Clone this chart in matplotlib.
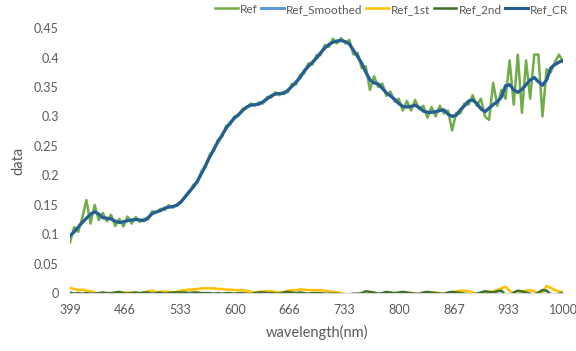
import numpy as np
import matplotlib
matplotlib.use("Agg")
import matplotlib.pyplot as plt

plt.rcParams['font.family'] = ['Lato', 'DejaVu Sans']

# continuum-removed reflectance (dark blue)
ref_cr = [
    0.097, 0.104, 0.112, 0.120, 0.127, 0.134, 0.138, 0.134, 0.128, 0.127,
    0.126, 0.122, 0.120, 0.121, 0.123, 0.124, 0.125, 0.124, 0.123, 0.128,
    0.135, 0.138, 0.140, 0.144, 0.146, 0.147, 0.149, 0.155, 0.163, 0.172,
    0.180, 0.190, 0.203, 0.217, 0.231, 0.244, 0.257, 0.268, 0.280, 0.289,
    0.297, 0.303, 0.310, 0.316, 0.319, 0.320, 0.321, 0.325, 0.330, 0.335,
    0.338, 0.339, 0.339, 0.344, 0.351, 0.358, 0.366, 0.377, 0.385, 0.392,
    0.399, 0.408, 0.416, 0.422, 0.426, 0.428, 0.429, 0.427, 0.423, 0.412,
    0.402, 0.390, 0.375, 0.362, 0.357, 0.355, 0.348, 0.340, 0.335, 0.329,
    0.322, 0.317, 0.316, 0.317, 0.319, 0.315, 0.309, 0.307, 0.307, 0.308,
    0.310, 0.311, 0.304, 0.300, 0.302, 0.311, 0.318, 0.326, 0.328, 0.322,
    0.313, 0.308, 0.314, 0.320, 0.325, 0.333, 0.352, 0.354, 0.345, 0.341,
    0.346, 0.354, 0.362, 0.366, 0.359, 0.353, 0.362, 0.382, 0.388, 0.392,
    0.395,
]

# smoothed reflectance lies under the CR line
ref_smoothed = list(ref_cr)

# raw reflectance (green)
ref = [
    0.086, 0.112, 0.104, 0.128, 0.158, 0.118, 0.150, 0.124, 0.136, 0.122,
    0.133, 0.114, 0.126, 0.113, 0.130, 0.118, 0.129, 0.121, 0.126, 0.125,
    0.139, 0.136, 0.143, 0.141, 0.149, 0.145, 0.151, 0.153, 0.165, 0.170,
    0.184, 0.187, 0.207, 0.213, 0.235, 0.241, 0.260, 0.265, 0.284, 0.286,
    0.300, 0.301, 0.313, 0.314, 0.322, 0.318, 0.324, 0.322, 0.333, 0.332,
    0.341, 0.336, 0.342, 0.341, 0.355, 0.354, 0.371, 0.373, 0.390, 0.388,
    0.404, 0.404, 0.421, 0.418, 0.432, 0.424, 0.433, 0.424, 0.430, 0.405,
    0.408, 0.382, 0.385, 0.345, 0.368, 0.350, 0.356, 0.335, 0.342, 0.325,
    0.330, 0.310, 0.326, 0.310, 0.328, 0.312, 0.318, 0.298, 0.316, 0.300,
    0.318, 0.305, 0.310, 0.276, 0.306, 0.305, 0.322, 0.320, 0.336, 0.318,
    0.330, 0.300, 0.294, 0.357, 0.318, 0.345, 0.330, 0.395, 0.320, 0.405,
    0.306, 0.395, 0.330, 0.405, 0.405, 0.300, 0.380, 0.375, 0.392, 0.405,
    0.393,
]

# first derivative (yellow), negative parts fall below the axis
ref_1st = [
    0.009, 0.007, 0.005, 0.006, 0.004, 0.003, 0.001, -0.002, -0.001, -0.001,
    -0.001, -0.002, 0.000, 0.001, 0.001, 0.001, 0.000, -0.001, 0.001, 0.003,
    0.004, 0.002, 0.002, 0.003, 0.002, 0.001, 0.002, 0.004, 0.005, 0.006,
    0.006, 0.007, 0.008, 0.008, 0.008, 0.008, 0.007, 0.007, 0.006, 0.006,
    0.005, 0.005, 0.005, 0.004, 0.002, 0.001, 0.002, 0.003, 0.003, 0.003,
    0.002, 0.001, 0.002, 0.004, 0.005, 0.005, 0.006, 0.006, 0.005, 0.005,
    0.005, 0.005, 0.004, 0.003, 0.002, 0.001, 0.000, -0.002, -0.004, -0.006,
    -0.008, -0.009, -0.009, -0.007, -0.005, -0.005, -0.006, -0.005, -0.005, -0.005,
    -0.004, -0.002, -0.001, 0.000, -0.001, -0.002, -0.002, -0.001, 0.000, 0.001,
    0.000, -0.002, -0.002, 0.001, 0.003, 0.004, 0.004, 0.003, 0.001, -0.002,
    -0.003, -0.001, 0.002, 0.003, 0.005, 0.008, 0.011, 0.004, -0.003, -0.002,
    0.002, 0.004, 0.005, 0.003, -0.001, 0.002, 0.012, 0.009, 0.005, 0.003,
    0.002,
]

# second derivative (dark green)
ref_2nd = [
    0.001, -0.001, 0.000, -0.001, 0.000, -0.001, -0.001, 0.000, 0.001, 0.000,
    0.000, 0.001, 0.002, 0.000, -0.001, 0.000, 0.001, 0.000, 0.001, 0.001,
    -0.001, 0.000, 0.001, -0.001, 0.000, 0.001, 0.001, 0.001, 0.001, 0.000,
    0.001, 0.001, 0.000, 0.000, 0.000, -0.001, 0.000, -0.001, 0.000, 0.000,
    -0.001, 0.000, 0.000, -0.001, -0.002, 0.000, 0.001, 0.001, 0.000, 0.000,
    -0.001, -0.001, 0.001, 0.002, 0.001, 0.000, 0.001, 0.000, -0.001, 0.000,
    0.000, 0.000, -0.001, -0.001, -0.001, -0.001, -0.002, -0.002, -0.002, -0.001,
    -0.001, 0.000, 0.003, 0.002, 0.001, -0.001, 0.000, 0.002, 0.001, 0.000,
    0.001, 0.002, 0.001, 0.000, -0.001, -0.001, 0.001, 0.002, 0.001, 0.000,
    -0.001, -0.001, 0.001, 0.002, 0.001, 0.000, -0.001, -0.002, -0.002, -0.001,
    0.001, 0.003, 0.002, 0.001, 0.003, 0.004, -0.003, -0.005, 0.001, 0.004,
    0.003, 0.001, -0.001, -0.003, 0.001, 0.005, 0.004, -0.002, -0.003, -0.001,
    0.000,
]

wavelength = np.linspace(399, 1000, len(ref))
tick_wl = [399, 466, 533, 600, 666, 733, 800, 867, 933, 1000]
y_ticks = [0, 0.05, 0.1, 0.15, 0.2, 0.25, 0.3, 0.35, 0.4, 0.45]
y_labels = ["0", "0.05", "0.1", "0.15", "0.2", "0.25", "0.3", "0.35", "0.4", "0.45"]

fig = plt.figure(figsize=(5.76, 3.51), dpi=100)
ax = fig.add_axes([0.1215, 0.165, 0.856, 0.755])

ax.plot(wavelength, ref, color='#70AD47', lw=1.8, label='Ref')
ax.plot(wavelength, ref_smoothed, color='#5B9BD5', lw=2.2, label='Ref_Smoothed')
ax.plot(wavelength, ref_1st, color='#FFC000', lw=1.8, label='Ref_1st')
ax.plot(wavelength, ref_2nd, color='#3B6E22', lw=1.8, label='Ref_2nd')
ax.plot(wavelength, ref_cr, color='#255E91', lw=2.2, label='Ref_CR')

ax.set_xlim(399, 1000)
ax.set_ylim(0, 0.45)
ax.set_xticks(tick_wl)
ax.set_xticklabels([str(w) for w in tick_wl])
ax.set_yticks(y_ticks)
ax.set_yticklabels(y_labels)
ax.tick_params(length=0, labelsize=9, colors='#595959', pad=8)

for side in ['top', 'right', 'left']:
    ax.spines[side].set_visible(False)
ax.spines['bottom'].set_color('#D9D9D9')

ax.set_xlabel('wavelength(nm)', fontsize=10.5, color='#595959', labelpad=6)
ax.set_ylabel('data', fontsize=10.5, color='#595959', labelpad=6)

fig.legend(loc='upper center', bbox_to_anchor=(0.68, 1.02), ncol=5,
           frameon=False, fontsize=8.5, handlelength=1.9, handletextpad=0.2,
           columnspacing=0.3, labelcolor='#595959')

fig.savefig('out.png', dpi=100)
